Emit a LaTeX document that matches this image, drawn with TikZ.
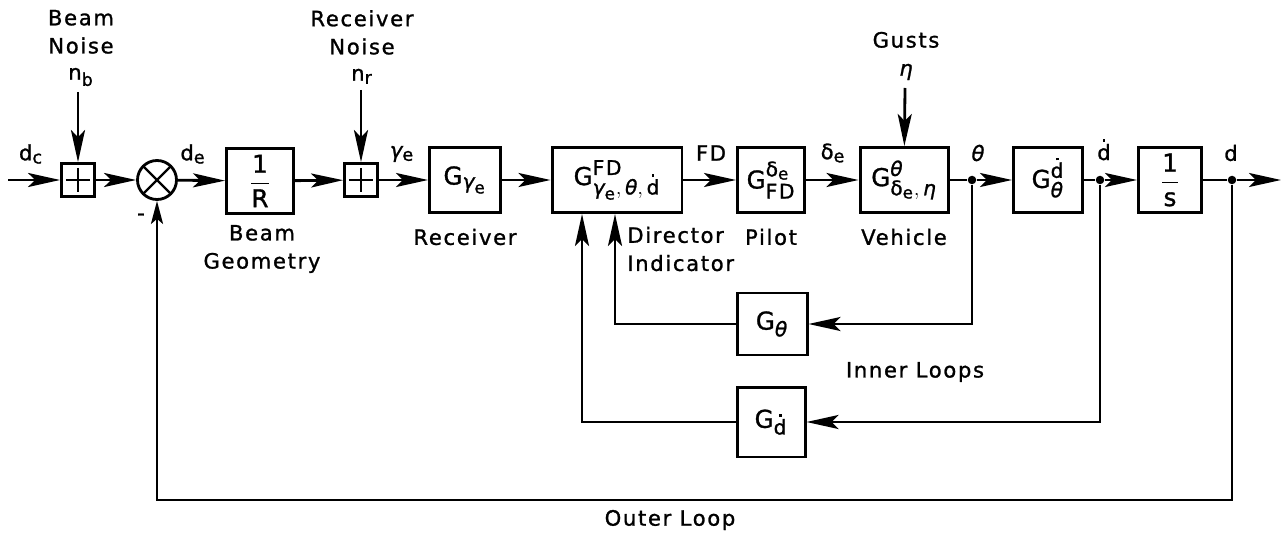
\documentclass[tikz,border=0pt]{standalone}
\usepackage{amsmath}
\usepackage{fontspec}
\setmainfont{DejaVu Sans}[LetterSpace=8, FakeBold=1.2]
\DeclareMathSizes{12}{12}{10}{8.5}
\DeclareMathSizes{14}{14}{11.5}{9.5}
\usetikzlibrary{arrows.meta}
\newcommand{\mytx}[1]{\text{#1}}
\newcommand{\myth}{\text{\itshape θ}}
\newcommand{\mygam}{\text{\itshape γ}}
\newcommand{\mydel}{\text{δ}}
\newcommand{\myeta}{\text{\itshape η}}
\newcommand{\dotd}{\ooalign{d\cr\hidewidth\raisebox{0.86em}{\rule{0.14em}{0.14em}}\hidewidth\cr}}
\newcommand{\mydd}{\text{\dotd}}
\tikzset{
  lab/.style={font=\fontsize{12}{16}\selectfont, inner sep=0pt, align=center},
  blk/.style={draw, line width=1.7pt, minimum height=1.3cm, font=\fontsize{14}{16}\selectfont, inner sep=1pt},
  sumbox/.style={draw, line width=1.6pt, minimum size=0.66cm, inner sep=0pt,
    path picture={
      \draw[line width=1.4pt] ([yshift=-2.5pt]path picture bounding box.north) -- ([yshift=2.5pt]path picture bounding box.south);
      \draw[line width=1.4pt] ([xshift=2.5pt]path picture bounding box.west) -- ([xshift=-2.5pt]path picture bounding box.east);}},
  xsum/.style={draw, circle, line width=1.6pt, minimum size=0.78cm, inner sep=0pt,
    path picture={
      \draw[line width=1.4pt] (path picture bounding box.north west) -- (path picture bounding box.south east);
      \draw[line width=1.4pt] (path picture bounding box.north east) -- (path picture bounding box.south west);}},
  ln/.style={line width=1.6pt},
  arr/.style={line width=1.6pt, -{Stealth[length=0.64cm, width=0.28cm, inset=0.14cm]}},
  sarr/.style={line width=1.6pt, -{Stealth[length=0.46cm, width=0.24cm, inset=0.1cm]}},
  dot/.style={circle, fill, inner sep=0pt, minimum size=0.17cm}
}
\begin{document}
\begin{tikzpicture}[x=0.02cm, y=-0.02cm]
\useasboundingbox (0,0) rectangle (1283,533);
% main row nodes
\coordinate (start) at (8,180);
\node[sumbox] (s1) at (78,180) {};
\node[xsum] (sj) at (157,180) {};
\node[blk, minimum width=1.34cm] (R) at (260,181) {$\dfrac{\mytx{1}}{\mytx{R}}$};
\node[sumbox] (s2) at (361,180) {};
\node[blk, minimum width=1.42cm] (Gg) at (465,180) {$\mytx{G}_{\mygam_{\mytx{e}}}$};
\node[blk, minimum width=2.6cm] (FD) at (617,180) {$\mytx{G}^{\mytx{FD}}_{\mygam_{\mytx{e}},\,\myth,\,\mydd}$};
\node[blk, minimum width=1.34cm] (Pi) at (771,180) {$\mytx{G}^{\mydel_{\mytx{e}}}_{\mytx{FD}}$};
\node[blk, minimum width=1.76cm] (Ve) at (904,180) {$\mytx{G}^{\myth}_{\mydel_{\mytx{e}},\,\myeta}$};
\node[dot] (bth) at (972,180) {};
\node[blk, minimum width=1.38cm] (Gd) at (1048,180) {$\mytx{G}^{\mydd}_{\myth}$};
\node[dot] (bdd) at (1100,180) {};
\node[blk, minimum width=1.26cm] (Is) at (1170,180) {$\dfrac{\mytx{1}}{\mytx{s}}$};
\node[dot] (bd) at (1232,180) {};
\coordinate (end) at (1281,180);
% feedback blocks
\node[blk, minimum width=1.4cm, minimum height=1.24cm] (Gt) at (772,324) {$\mytx{G}_{\myth}$};
\node[blk, minimum width=1.36cm, minimum height=1.4cm] (Gdd) at (771,422) {$\mytx{G}_{\mydd}$};
\coordinate (ol) at (700,500);
% disturbance sources
\coordinate (nbs) at (78,92);
\coordinate (nrs) at (361,90);
\coordinate (gs) at (905,88);
% labels
\node[lab] at (81,48) {Beam\\Noise\\[-1pt]n$_{\mytx{b}}$};
\node[lab] at (362,47) {Receiver\\Noise\\[-1pt]n$_{\mytx{r}}$};
\node[lab] at (906,56) {Gusts\\\itshape η};
\node[lab] at (31,154) {d$_{\mytx{c}}$};
\node[lab] at (193,154) {d$_{\mytx{e}}$};
\node[lab] at (402,154) {\itshape γ\upshape$_{\mytx{e}}$};
\node[lab] at (711,153) {FD};
\node[lab] at (833,153) {δ$_{\mytx{e}}$};
\node[lab] at (978,153) {\itshape θ};
\node[lab] at (1104,152) {\dotd};
\node[lab] at (1231,153) {d};
\node[lab] at (141,217) {-};
\node[lab] at (262,249) {Beam\\Geometry};
\node[lab] at (465,237) {Receiver};
\node[lab, anchor=west, align=left] at (627,249) {Director\\Indicator};
\node[lab] at (771,237) {Pilot};
\node[lab] at (904,237) {Vehicle};
\node[lab] at (915,372) {Inner Loops};
\node[lab] at (670,520) {Outer Loop};
% forward path
\draw[arr] (start) -- (s1);
\draw[arr] (nbs) -- (s1);
\draw[arr] (s1) -- (sj);
\draw[arr] (sj) -- (R);
\draw[arr] (R) -- (s2);
\draw[arr] (nrs) -- (s2);
\draw[arr] (s2) -- (Gg);
\draw[arr] (Gg) -- (FD);
\draw[arr] (FD) -- (Pi);
\draw[arr] (Pi) -- (Ve);
\draw[arr] (gs) -- (Ve);
\draw[ln] (Ve) -- (bth);
\draw[arr] (bth) -- (Gd);
\draw[ln] (Gd) -- (bdd);
\draw[arr] (bdd) -- (Is);
\draw[ln] (Is) -- (bd);
\draw[arr] (bd) -- (end);
% inner loops
\draw[arr] (bth) |- (Gt.east);
\draw[arr] (Gt.west) -| ([xshift=-0.04cm]FD.south);
\draw[arr] (bdd) |- (Gdd.east);
\draw[arr] (Gdd.west) -| ([xshift=-0.7cm]FD.south);
% outer loop
\draw[sarr] (bd) -- (bd |- ol) -| (sj.south);
\end{tikzpicture}
\end{document}
